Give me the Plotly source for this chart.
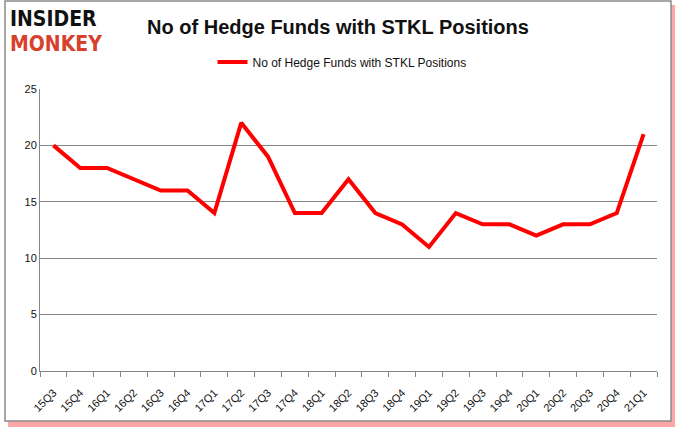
import plotly.graph_objects as go

quarters = ["15Q3", "15Q4", "16Q1", "16Q2", "16Q3", "16Q4", "17Q1", "17Q2", "17Q3", "17Q4",
            "18Q1", "18Q2", "18Q3", "18Q4", "19Q1", "19Q2", "19Q3", "19Q4", "20Q1", "20Q2",
            "20Q3", "20Q4", "21Q1"]
hedge_funds = [20, 18, 18, 17, 16, 16, 14, 22, 19, 14,
               14, 17, 14, 13, 11, 14, 13, 13, 12, 13,
               13, 14, 21]
series_name = "No of Hedge Funds with STKL Positions"
title_text = "No of Hedge Funds with STKL Positions"
y_ticks = [0, 5, 10, 15, 20, 25]

W, H = 678, 431
L, R, T, B = 40, 21, 89, 60
PW, PH = W - L - R, H - T - B


def px(x):
    return (x - L) / PW


def py(y):
    return (H - B - y) / PH


fig = go.Figure()
fig.add_trace(go.Scatter(
    x=quarters, y=hedge_funds, mode="lines", name=series_name,
    line=dict(color="#ff0000", width=4),
))

shapes = [
    dict(type="rect", xref="paper", yref="paper", x0=px(8), x1=px(675), y0=py(427), y1=py(5),
         fillcolor="rgba(255,60,60,0.45)", line=dict(width=0), layer="below"),
    dict(type="rect", xref="paper", yref="paper", x0=px(5), x1=px(671), y0=py(421), y1=py(1),
         fillcolor="white", line=dict(color="#8a8a8a", width=1.5), layer="below"),
]

logo_font = "Liberation Sans Narrow, DejaVu Sans Condensed, Arial"
annotations = [
    dict(text="<b>INSIDER</b>", xref="paper", yref="paper", x=px(8), y=py(19),
         xanchor="left", yanchor="middle", showarrow=False,
         font=dict(family=logo_font, size=21, color="#111111")),
    dict(text="<b>MONKEY</b>", xref="paper", yref="paper", x=px(8), y=py(44),
         xanchor="left", yanchor="middle", showarrow=False,
         font=dict(family=logo_font, size=21, color="#d7402b")),
]

fig.update_layout(
    width=W, height=H,
    margin=dict(l=L, r=R, t=T, b=B, autoexpand=False),
    paper_bgcolor="rgba(0,0,0,0)",
    plot_bgcolor="rgba(0,0,0,0)",
    title=dict(text="<b>" + title_text + "</b>", x=338 / W, y=1 - 27 / H,
               xanchor="center", yanchor="middle",
               font=dict(family="Liberation Sans, Arial", size=20, color="#111111")),
    showlegend=True,
    legend=dict(orientation="h", x=px(342), y=py(62), xanchor="center", yanchor="middle",
                font=dict(family="Liberation Sans, Arial", size=12, color="#111111"),
                bgcolor="rgba(0,0,0,0)", itemwidth=30),
    shapes=shapes,
    annotations=annotations,
    xaxis=dict(type="category", range=[-0.5, len(quarters) - 0.5], tickangle=-45,
               tickson="boundaries", ticks="outside", automargin=False,
               ticklen=5, tickcolor="#868686", showline=True, linecolor="#868686",
               linewidth=1, showgrid=False, ticklabelstandoff=10,
               tickfont=dict(family="Liberation Sans, Arial", size=11, color="#111111")),
    yaxis=dict(range=[0, 25], tickvals=y_ticks, showgrid=True, gridcolor="#868686",
               gridwidth=1, showline=True, linecolor="#868686", linewidth=1,
               zeroline=False, ticks="", ticklen=0, automargin=False,
               tickfont=dict(family="Liberation Sans, Arial", size=11, color="#111111")),
)

fig.write_html("out.html", config={"displayModeBar": False},
               post_script="document.body.style.margin='0';")
